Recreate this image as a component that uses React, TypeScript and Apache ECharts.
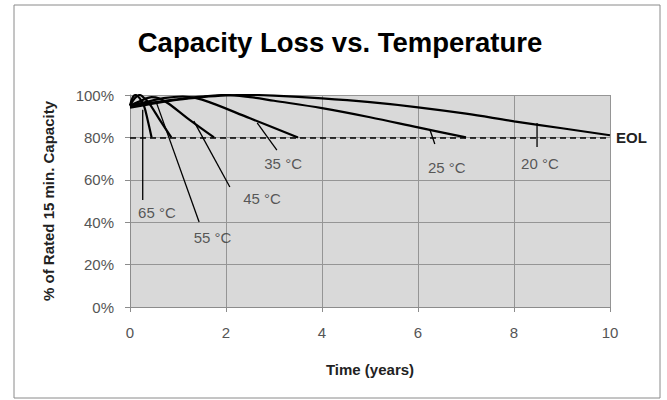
import React, { useEffect, useRef } from "react";
import * as echarts from "echarts";

const title = "Capacity Loss vs. Temperature";
const xName = "Time (years)";
const yName = "% of Rated 15 min. Capacity";
const eolLabel = "EOL";
const eolValue = 80;

// Capacity curves: time (years) and % of rated capacity
const t65 = [0, 0.06, 0.12, 0.2, 0.29, 0.37, 0.45];
const v65 = [95, 99, 100, 98.5, 95, 88, 80];
const t55 = [0, 0.1, 0.2, 0.3, 0.4, 0.6, 0.86];
const v55 = [95, 98.5, 100, 98.5, 96, 89, 80];
const t45 = [0, 0.2, 0.45, 0.6, 0.8, 1.2, 1.75];
const v45 = [95, 97, 99, 98.5, 96, 89, 80];
const t35 = [0, 0.3, 0.7, 1.1, 1.5, 2.5, 3.5];
const v35 = [95, 96.5, 98.5, 99.3, 97.8, 89, 80];
const t25 = [0, 0.5, 1, 1.5, 2, 2.5, 3, 4, 5, 6, 7];
const v25 = [94.5, 96.5, 98, 99.3, 100, 99, 97.3, 93.8, 89.5, 84.7, 80];
const t20 = [0, 0.5, 1, 1.5, 2, 2.5, 3, 4, 5, 6, 7, 8, 9, 10];
const v20 = [94, 96, 97.8, 99, 99.8, 100, 99.7, 98.4, 96.6, 94.2, 91.2, 87.6, 84.3, 81];

// Temperature annotations: leader line start/end and label positions
const tempNames = ["65 °C", "55 °C", "45 °C", "35 °C", "25 °C", "20 °C"];
const leaderStartT = [0.265, 0.56, 1.33, 2.65, 6.25, 8.48];
const leaderStartV = [93, 95.8, 87.7, 86.8, 83.5, 86.8];
const leaderEndT = [0.265, 1.44, 2.08, 3.06, 6.35, 8.48];
const leaderEndV = [50.5, 40.1, 56.6, 74, 76.9, 75.5];
const labelT = [0.56, 1.72, 2.75, 3.19, 6.6, 8.54];
const labelV = [44.8, 33, 51.4, 67.9, 66, 67.9];

const xTicks = { min: 0, max: 10, interval: 2 };
const yTicks = { min: 0, max: 100, interval: 20 };

const zip = (t: number[], v: number[]) => t.map((x, i) => [x, v[i]]);

export default function App() {
  const ref = useRef<HTMLDivElement>(null);
  useEffect(() => {
    document.body.style.margin = "0";
    if (!ref.current) return;
    const chart = echarts.init(ref.current, null, { renderer: "svg" });
    const font = "'Liberation Sans', Arial, sans-serif";
    const curves = [
      zip(t65, v65),
      zip(t55, v55),
      zip(t45, v45),
      zip(t35, v35),
      zip(t25, v25),
      zip(t20, v20),
    ];
    const series: any[] = curves.map((d) => ({
      type: "line",
      data: d,
      smooth: 0.35,
      showSymbol: false,
      symbol: "none",
      lineStyle: { color: "#000", width: 2.2 },
      z: 3,
    }));
    tempNames.forEach((_, i) => {
      series.push({
        type: "line",
        data: [
          [leaderStartT[i], leaderStartV[i]],
          [leaderEndT[i], leaderEndV[i]],
        ],
        symbol: "none",
        lineStyle: { color: "#000", width: 1.3 },
        z: 4,
      });
    });
    series.push({
      type: "scatter",
      data: labelT.map((t, i) => ({ value: [t, labelV[i]], name: tempNames[i] })),
      symbolSize: 1,
      itemStyle: { color: "rgba(0,0,0,0)" },
      label: {
        show: true,
        position: "inside",
        formatter: (p: any) => p.name,
        fontFamily: font,
        fontSize: 15,
        color: "#333",
      },
      z: 5,
    });
    series.push({
      type: "line",
      data: [],
      markLine: {
        symbol: "none",
        silent: true,
        data: [{ yAxis: eolValue }],
        lineStyle: { color: "#000", type: [6, 4], width: 1.6 },
        label: {
          show: true,
          position: "end",
          formatter: eolLabel,
          fontFamily: font,
          fontWeight: "bold",
          fontSize: 15,
          color: "#222",
          distance: 6,
        },
      },
    });
    chart.setOption({
      animation: false,
      graphic: [
        {
          type: "rect",
          shape: { x: 14, y: 5, width: 646, height: 393 },
          style: { fill: "#fff", stroke: "#8a8a8a", lineWidth: 1 },
          z: -10,
        },
        {
          type: "text",
          x: 340,
          y: 42,
          style: {
            text: title,
            fontFamily: font,
            fontWeight: "bold",
            fontSize: 27.5,
            fill: "#000",
            textAlign: "center",
            textVerticalAlign: "middle",
          },
        },
      ],
      grid: {
        left: 130,
        right: 57,
        top: 95,
        bottom: 93,
        show: true,
        backgroundColor: "#d9d9d9",
        borderWidth: 0,
      },
      xAxis: {
        type: "value",
        ...xTicks,
        name: xName,
        nameLocation: "middle",
        nameGap: 55,
        nameTextStyle: { fontFamily: font, fontWeight: "bold", fontSize: 15, color: "#222" },
        axisLine: { show: true, lineStyle: { color: "#8c8c8c" } },
        axisTick: { show: true, length: 5, lineStyle: { color: "#8c8c8c" } },
        axisLabel: { fontFamily: font, fontSize: 15, color: "#555", margin: 18 },
        splitLine: { show: true, lineStyle: { color: "#959595", width: 1 } },
      },
      yAxis: {
        type: "value",
        ...yTicks,
        name: yName,
        nameLocation: "middle",
        nameRotate: 90,
        nameGap: 74,
        nameTextStyle: { fontFamily: font, fontWeight: "bold", fontSize: 15, color: "#222" },
        axisLine: { show: true, lineStyle: { color: "#8c8c8c" } },
        axisTick: { show: true, length: 5, lineStyle: { color: "#8c8c8c" } },
        axisLabel: {
          fontFamily: font,
          fontSize: 15,
          color: "#555",
          margin: 16,
          formatter: (v: number) => v + "%",
        },
        splitLine: { show: true, lineStyle: { color: "#959595", width: 1 } },
      },
      series,
    });
    return () => chart.dispose();
  }, []);
  return <div ref={ref} style={{ width: 667, height: 400 }} />;
}
